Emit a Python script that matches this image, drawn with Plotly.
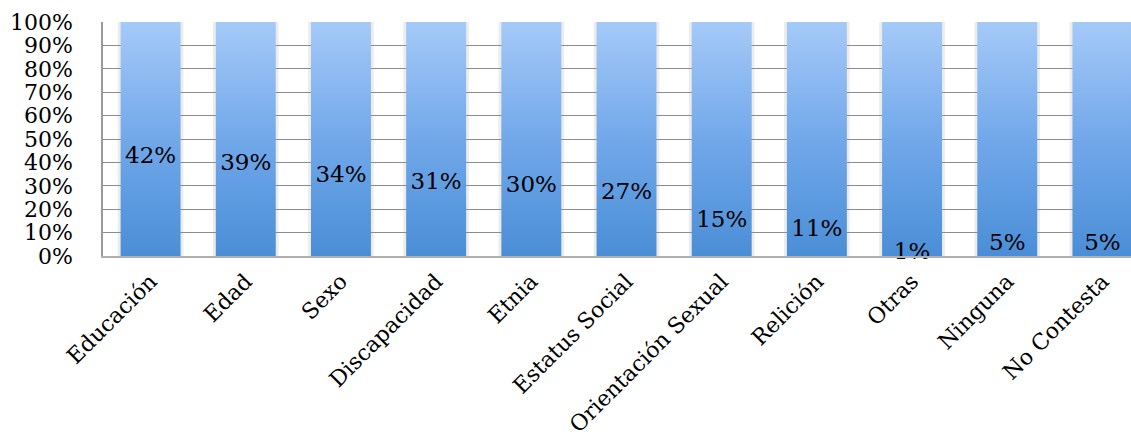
import plotly.graph_objects as go

categories = ["Educación", "Edad", "Sexo", "Discapacidad", "Etnia", "Estatus Social",
              "Orientación Sexual", "Relición", "Otras", "Ninguna", "No Contesta"]
values = [42, 39, 34, 31, 30, 27, 15, 11, 1, 5, 5]
totals = [100] * len(categories)
y_ticks = list(range(0, 101, 10))

FONT = "DejaVu Serif"
BAR_W = 0.63

fig = go.Figure()
idx = list(range(len(categories)))

for i, t in zip(idx, totals):
    x0, x1 = i - BAR_W / 2, i + BAR_W / 2
    # soft shadow
    fig.add_trace(go.Scatter(
        x=[x0 - 0.03, x1 + 0.03, x1 + 0.03, x0 - 0.03, x0 - 0.03],
        y=[0, 0, t, t, 0], mode="lines", fill="toself",
        fillcolor="rgba(150,150,150,0.18)", line=dict(width=0),
        hoverinfo="skip", showlegend=False))
    fig.add_trace(go.Scatter(
        x=[x0, x1, x1, x0, x0], y=[0, 0, t, t, 0],
        mode="lines", fill="toself", line=dict(width=0),
        fillgradient=dict(type="vertical", start=0, stop=100,
                          colorscale=[[0, "#4A8ED7"], [0.5, "#72A8EA"], [1, "#A5CAF8"]]),
        hoverinfo="skip", showlegend=False))

fig.add_trace(go.Scatter(
    x=idx, y=values, mode="text",
    text=[f"{v}%" for v in values], textposition="middle center",
    textfont=dict(family=FONT, size=23, color="black"),
    hoverinfo="skip", showlegend=False, cliponaxis=False))

fig.update_layout(
    width=1131, height=441,
    margin=dict(l=103, r=0, t=22, b=185),
    paper_bgcolor="white", plot_bgcolor="white",
    font=dict(family=FONT, size=22, color="black"),
    xaxis=dict(range=[-0.5, 10.3], tickmode="array", tickvals=idx, ticktext=categories,
               tickangle=-45, showgrid=False, zeroline=False, showline=True,
               linecolor="#b0b0b0", linewidth=1.5, ticks="", ticklabelstandoff=2,
               automargin=False,
               tickfont=dict(family=FONT, size=22, color="black")),
    yaxis=dict(range=[0, 100], tickmode="array", tickvals=y_ticks,
               ticktext=[f"{v}%" for v in y_ticks],
               showgrid=True, gridcolor="#8c8c8c", gridwidth=1.2,
               zeroline=False, showline=True, linecolor="#9a9a9a", linewidth=1.5,
               ticks="", ticklabelstandoff=24, automargin=False,
               tickfont=dict(family=FONT, size=22, color="black")),
)

fig.write_html("out.html")
